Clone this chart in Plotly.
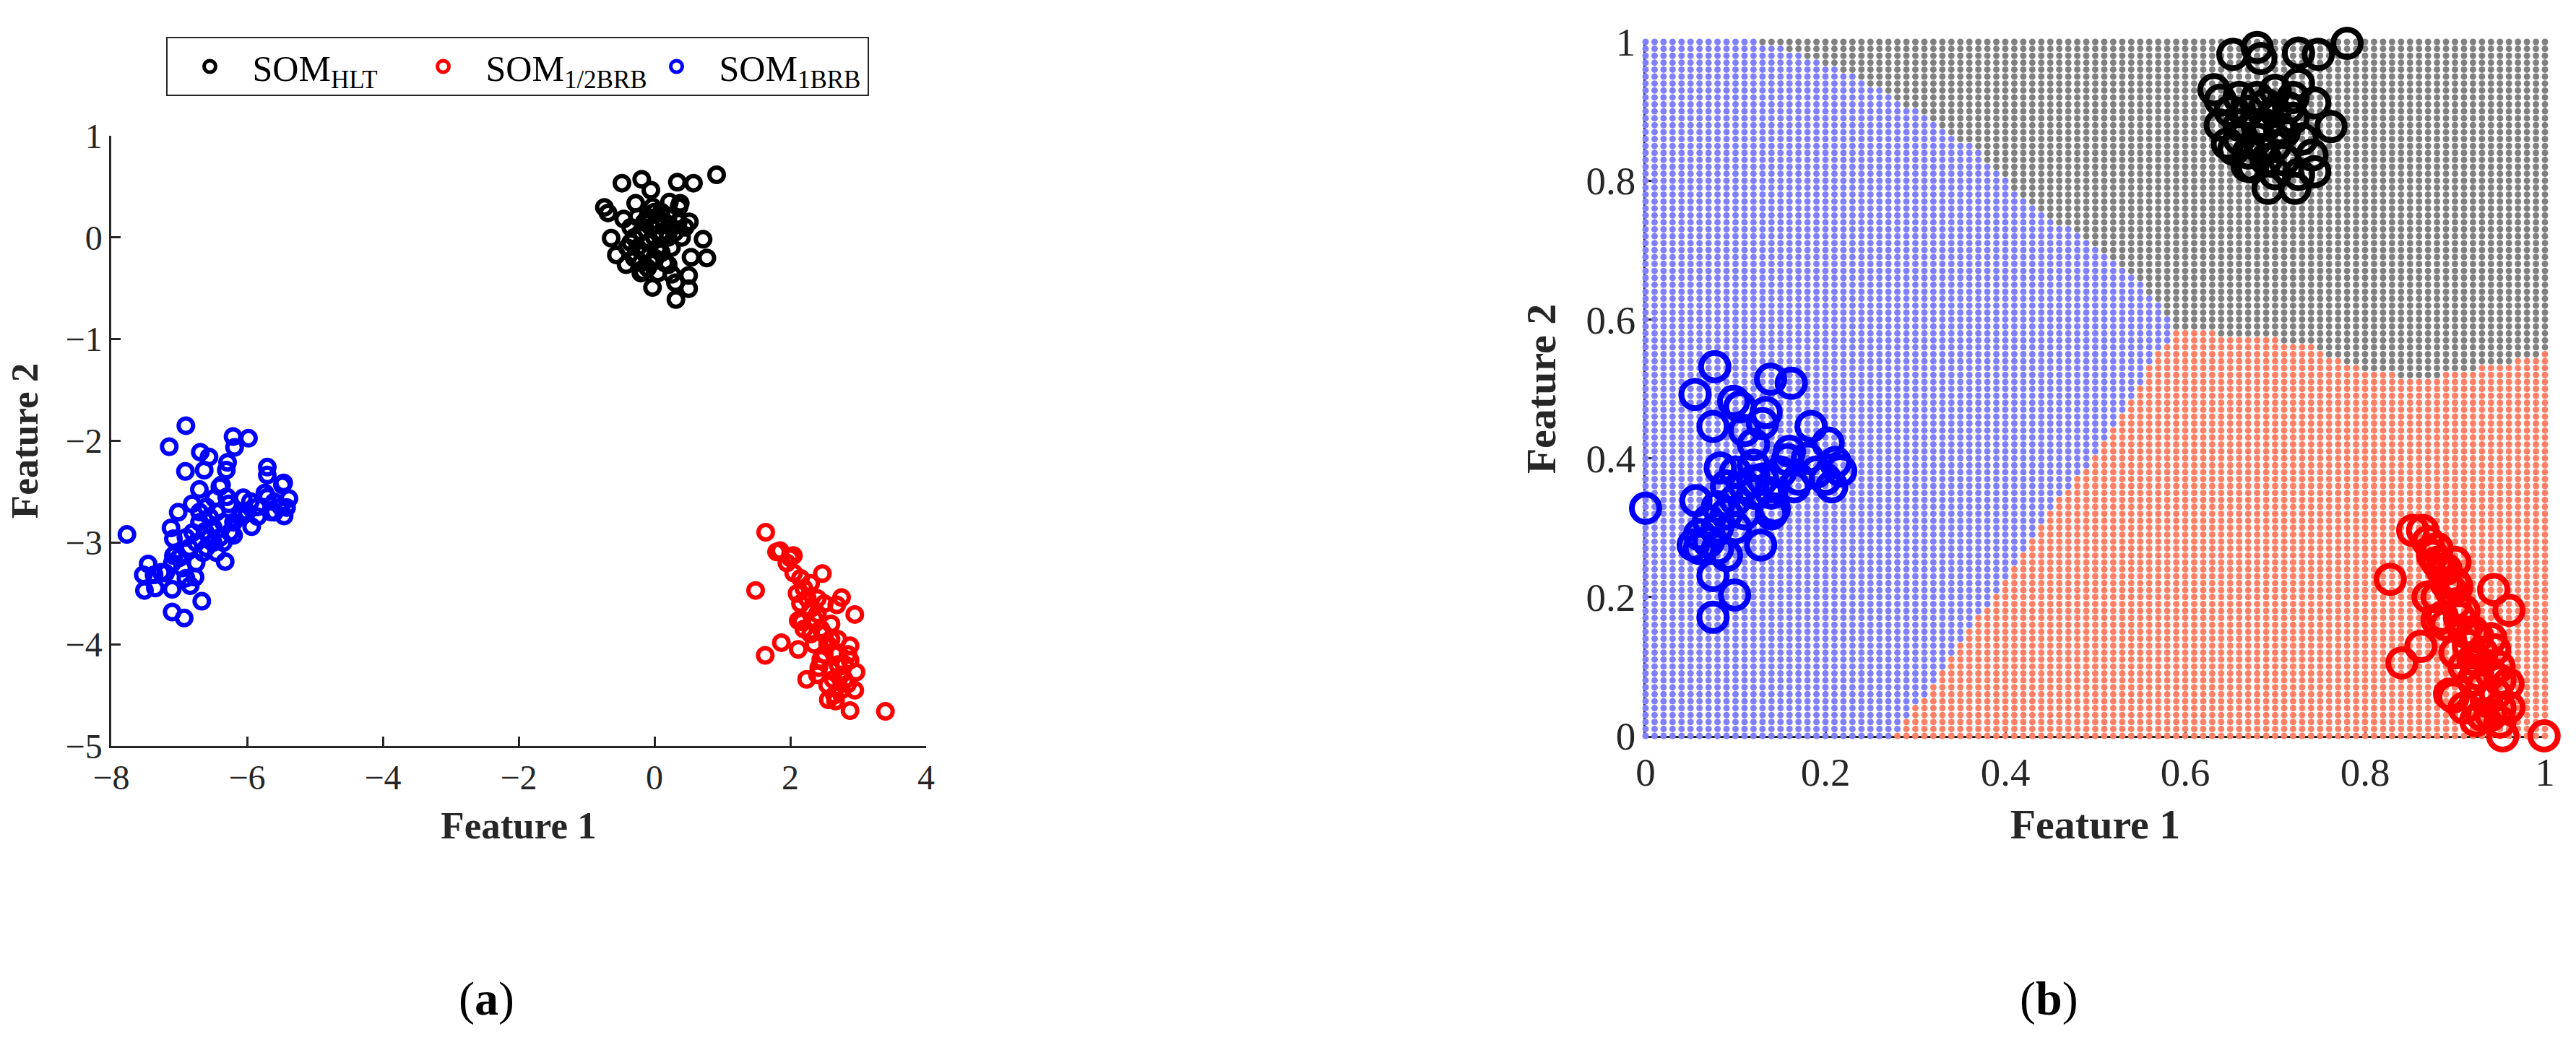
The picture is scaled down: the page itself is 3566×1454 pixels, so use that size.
import numpy as np
import plotly.graph_objects as go

# ---------------- (a) raw feature space ----------------
HLT_X = [-0.479, -0.188, -0.053, 0.337, 0.574, 0.915, -0.737, -0.684, -0.277, 0.220, 0.379, 0.514,
         -0.638, 0.716, 0.771, 0.503, 0.503, -0.029, 0.309, 0.316, 0.255, 0.202, 0.539, -0.561,
         -0.454, -0.418, -0.170, 0.362, -0.029,
         -0.35, -0.30, -0.25, -0.20, -0.15, -0.10, -0.05, 0.00, 0.05, 0.10, 0.15, 0.20, 0.25,
         -0.30, -0.20, -0.10, 0.00, 0.10, 0.30, 0.35, -0.40, -0.10, 0.00, 0.10, 0.20, -0.25,
         0.15, 0.05, -0.15, -0.05, 0.25, -0.35, 0.40, 0.45, -0.20, 0.05]
HLT_Y = [0.534, 0.572, 0.466, 0.544, 0.534, 0.617, 0.296, 0.241, 0.336, 0.348, 0.336, 0.154,
         -0.007, -0.018, -0.202, -0.374, -0.504, -0.492, -0.445, -0.610, -0.362, -0.267, -0.195, -0.172,
         0.182, -0.267, -0.337, 0.300, 0.300,
         0.10, 0.00, -0.10, 0.05, 0.15, -0.05, 0.10, 0.00, -0.10, 0.05, 0.15, 0.00, -0.10,
         -0.20, -0.25, -0.30, -0.20, -0.15, 0.05, 0.15, -0.10, 0.20, 0.25, 0.25, 0.20, 0.20,
         -0.25, 0.15, -0.15, -0.25, 0.10, -0.05, 0.00, 0.10, -0.35, -0.35]

HALF_X = [1.638, 1.489, 1.798, 1.851, 2.046, 2.472, 2.755, 2.950, 2.685, 2.117, 1.869, 1.631,
          2.117, 2.241, 2.880, 2.880, 2.968, 2.950, 2.560, 2.667, 2.880, 3.401, 2.844, 2.630,
          2.170, 2.420,
          1.95, 2.05, 2.15, 2.20, 2.10, 2.25, 2.30, 2.35, 2.40, 2.45, 2.50, 2.55, 2.60, 2.65,
          2.50, 2.70, 2.75, 2.80, 2.60, 2.55, 2.45, 2.35, 2.30, 2.40, 2.60, 2.70, 2.85, 2.75,
          2.00, 2.30, 2.15, 2.20, 2.50, 2.65, 2.40, 2.80]
HALF_Y = [-2.898, -3.471, -3.092, -3.080, -3.128, -3.305, -3.541, -3.707, -3.612, -3.766, -3.984, -4.109,
          -4.050, -4.345, -4.014, -4.156, -4.274, -4.452, -4.546, -4.558, -4.652, -4.660, -4.392, -4.345,
          -3.780, -4.230,
          -3.20, -3.30, -3.35, -3.45, -3.50, -3.55, -3.65, -3.75, -3.70, -3.85, -3.90, -4.00, -3.95, -4.10,
          -4.10, -4.20, -4.30, -4.35, -4.25, -4.40, -4.15, -4.00, -3.90, -3.55, -3.80, -3.95, -4.10, -4.45,
          -3.15, -3.40, -3.60, -3.85, -3.60, -4.50, -4.30, -4.20]

ONE_X = [-6.901, -7.146, -6.206, -5.979, -6.184, -6.688, -6.560, -6.287, -6.305, -6.907, -6.631, -5.702,
         -5.702, -5.461, -6.702, -6.376, -6.482, -6.809, -7.014, -6.269, -6.056, -5.950, -5.737, -5.479,
         -5.383, -5.418, -5.702, -5.596, -5.454, -5.844, -5.932, -6.092, -7.120, -7.769, -7.085, -6.198,
         -6.322, -7.457, -7.528, -7.369, -7.511, -7.351, -7.103, -6.837, -6.766, -6.667, -7.103, -6.926,
         -7.262, -7.085,
         -6.62, -6.70, -6.55, -6.50, -6.75, -6.60, -6.45, -6.70, -6.55, -6.80, -6.65, -6.50, -6.85,
         -6.40, -6.60, -7.00, -7.10, -6.95, -7.05, -6.90, -7.20, -6.90, -6.45, -6.35, -6.20, -6.10,
         -6.00, -5.85, -5.60, -5.50, -5.65, -6.25, -6.35, -6.75, -6.30, -6.40]
ONE_Y = [-1.851, -2.057, -1.957, -1.974, -2.064, -2.111, -2.158, -2.211, -2.288, -2.300, -2.288, -2.258,
         -2.336, -2.414, -2.478, -2.433, -2.565, -2.619, -2.702, -2.619, -2.560, -2.596, -2.513, -2.433,
         -2.567, -2.655, -2.553, -2.702, -2.738, -2.745, -2.844, -2.722, -2.856, -2.920, -2.962, -2.929,
         -3.187, -3.210, -3.317, -3.317, -3.471, -3.447, -3.459, -3.424, -3.340, -3.577, -3.683, -3.742,
         -3.293, -3.128,
         -2.89, -2.80, -2.95, -2.85, -3.00, -3.05, -3.10, -2.70, -2.75, -2.90, -3.10, -3.00, -3.05,
         -2.95, -2.65, -3.15, -3.20, -3.25, -3.10, -3.35, -3.30, -2.95, -2.70, -2.80, -2.80, -2.75,
         -2.70, -2.65, -2.60, -2.65, -2.70, -2.90, -3.00, -3.20, -2.55, -2.45]

# ---------------- (b) normalised feature space ----------------
B_HLT_X = [0.653, 0.680, 0.684, 0.726, 0.748, 0.780, 0.632, 0.639, 0.726, 0.744, 0.762, 0.639,
           0.647, 0.741, 0.744, 0.692, 0.722, 0.726, 0.669, 0.654,
           0.66, 0.67, 0.68, 0.69, 0.70, 0.71, 0.68, 0.70, 0.72, 0.67, 0.69, 0.71, 0.66, 0.70,
           0.73, 0.68, 0.69, 0.65, 0.72, 0.70, 0.675, 0.705, 0.685, 0.715, 0.66]
B_HLT_Y = [0.982, 0.992, 0.976, 0.984, 0.982, 0.998, 0.931, 0.916, 0.940, 0.912, 0.878, 0.880,
           0.853, 0.837, 0.813, 0.789, 0.789, 0.809, 0.821, 0.845,
           0.88, 0.90, 0.86, 0.88, 0.90, 0.87, 0.92, 0.85, 0.89, 0.84, 0.83, 0.83, 0.86, 0.93,
           0.86, 0.88, 0.91, 0.90, 0.92, 0.81, 0.82, 0.875, 0.845, 0.905, 0.92]

B_HALF_X = [0.828, 0.841, 0.862, 0.894, 0.999, 0.953, 0.923, 0.960, 0.943, 0.959, 0.960, 0.853,
            0.864, 0.886, 0.944, 0.949, 0.898, 0.910, 0.880, 0.925, 0.902,
            0.87, 0.875, 0.88, 0.885, 0.89, 0.895, 0.90, 0.905, 0.91, 0.915, 0.92, 0.925, 0.93,
            0.935, 0.94, 0.88, 0.89, 0.90, 0.91, 0.92, 0.93, 0.94, 0.945, 0.95, 0.90, 0.91, 0.92,
            0.93, 0.95, 0.94, 0.89, 0.90, 0.87, 0.88, 0.95]
B_HALF_Y = [0.2255, 0.105, 0.129, 0.060, 0.000, 0.000, 0.022, 0.181, 0.211, 0.075, 0.041, 0.296,
            0.296, 0.171, 0.124, 0.100, 0.056, 0.040, 0.167, 0.143, 0.215,
            0.28, 0.26, 0.25, 0.24, 0.22, 0.21, 0.19, 0.17, 0.15, 0.13, 0.11, 0.09, 0.07,
            0.05, 0.03, 0.27, 0.24, 0.22, 0.18, 0.15, 0.12, 0.09, 0.06, 0.04, 0.12, 0.10, 0.08,
            0.03, 0.02, 0.14, 0.16, 0.25, 0.20, 0.20, 0.08]

B_ONE_X = [0.000, 0.077, 0.055, 0.098, 0.105, 0.139, 0.162, 0.075, 0.134, 0.184, 0.203, 0.075,
           0.099, 0.075, 0.128, 0.056, 0.053, 0.083, 0.211, 0.217, 0.207, 0.158, 0.165, 0.143,
           0.120,
           0.08, 0.09, 0.10, 0.11, 0.12, 0.10, 0.07, 0.08, 0.06, 0.11, 0.13, 0.12, 0.14, 0.09,
           0.10, 0.15, 0.17, 0.18, 0.07, 0.09, 0.12, 0.11, 0.13, 0.16, 0.20, 0.19, 0.06, 0.08, 0.14]
B_ONE_Y = [0.328, 0.532, 0.492, 0.482, 0.474, 0.514, 0.508, 0.446, 0.466, 0.446, 0.422, 0.231,
           0.203, 0.171, 0.275, 0.339, 0.275, 0.386, 0.394, 0.382, 0.359, 0.398, 0.359, 0.327,
           0.367,
           0.30, 0.32, 0.34, 0.36, 0.35, 0.30, 0.28, 0.27, 0.29, 0.32, 0.37, 0.39, 0.35, 0.36,
           0.38, 0.38, 0.37, 0.40, 0.31, 0.26, 0.42, 0.44, 0.45, 0.41, 0.37, 0.38, 0.27, 0.33, 0.32]

# decision-region boundaries
GRAY_BLUE_X = [0.128, 0.195, 0.278, 0.368, 0.429, 0.496, 0.556, 0.590]
GRAY_BLUE_Y = [1.000, 0.972, 0.920, 0.845, 0.765, 0.709, 0.645, 0.585]
GRAY_RED_X = [0.590, 0.609, 0.684, 0.737, 0.797, 0.857, 0.910, 0.962, 1.000]
GRAY_RED_Y = [0.585, 0.583, 0.574, 0.562, 0.530, 0.514, 0.526, 0.538, 0.554]
BLUE_RED_Y = [0.000, 0.016, 0.080, 0.167, 0.223, 0.279, 0.343, 0.398, 0.470, 0.542, 0.585]
BLUE_RED_X = [0.274, 0.286, 0.323, 0.368, 0.398, 0.429, 0.459, 0.496, 0.534, 0.564, 0.590]
GRID_STEP = 0.01

UX = GRAY_BLUE_X + GRAY_RED_X[1:]
UY = GRAY_BLUE_Y + GRAY_RED_Y[1:]
grid = np.round(np.arange(0, 1 + GRID_STEP / 2, GRID_STEP), 4)
reg = {"gray": ([], []), "blue": ([], []), "red": ([], [])}
for gx in grid:
    for gy in grid:
        if gx >= UX[0] and gy >= np.interp(gx, UX, UY):
            k = "gray"
        elif gy > BLUE_RED_Y[-1] or gx < np.interp(gy, BLUE_RED_Y, BLUE_RED_X):
            k = "blue"
        else:
            k = "red"
        reg[k][0].append(gx)
        reg[k][1].append(gy)

FONT = "Liberation Serif"
AX = "#262626"

fig = go.Figure()

# panel (a)
for name, xs, ys, col in [("SOM<sub>HLT</sub>", HLT_X, HLT_Y, "#000000"),
                          ("SOM<sub>1/2BRB</sub>", HALF_X, HALF_Y, "#FF0000"),
                          ("SOM<sub>1BRB</sub>", ONE_X, ONE_Y, "#0000FF")]:
    fig.add_trace(go.Scatter(x=xs, y=ys, mode="markers", name=name, cliponaxis=False,
                             marker=dict(symbol="circle-open", size=20, color=col,
                                         line=dict(width=6, color=col)),
                             xaxis="x", yaxis="y"))

# panel (b) regions
for k, col in [("gray", "#808080"), ("blue", "#8080FF"), ("red", "#FF8066")]:
    fig.add_trace(go.Scatter(x=reg[k][0], y=reg[k][1], mode="markers", showlegend=False,
                             cliponaxis=False, hoverinfo="skip",
                             marker=dict(symbol="circle", size=9, color=col, line=dict(width=0)),
                             xaxis="x2", yaxis="y2"))

for xs, ys, col in [(B_HLT_X, B_HLT_Y, "#000000"), (B_HALF_X, B_HALF_Y, "#FF0000"),
                    (B_ONE_X, B_ONE_Y, "#0000FF")]:
    fig.add_trace(go.Scatter(x=xs, y=ys, mode="markers", showlegend=False, cliponaxis=False,
                             marker=dict(symbol="circle-open", size=38, color=col,
                                         line=dict(width=8, color=col)),
                             xaxis="x2", yaxis="y2"))

W, H = 3566, 1454


def axstyle(size):
    return dict(showline=True, linecolor=AX, linewidth=2.5, ticks="inside", ticklen=13,
                tickwidth=2.5, tickcolor=AX, showgrid=False, zeroline=False, mirror=False,
                automargin=False,
                tickfont=dict(family=FONT, size=size, color=AX), layer="below traces")


fig.update_layout(
    width=W, height=H, margin=dict(l=0, r=0, t=0, b=0, autoexpand=False),
    paper_bgcolor="white", plot_bgcolor="rgba(0,0,0,0)",
    font=dict(family=FONT, color=AX),
    xaxis=dict(domain=[154 / W, 1282 / W], anchor="y", range=[-8, 4], tickvals=[-8, -6, -4, -2, 0, 2, 4],
               title=dict(text="<b>Feature 1</b>", font=dict(family=FONT, size=53, color=AX), standoff=22),
               **axstyle(48)),
    yaxis=dict(domain=[1 - 1033 / H, 1 - 188 / H], anchor="x", range=[-5, 1], tickvals=[-5, -4, -3, -2, -1, 0, 1],
               title=dict(text="<b>Feature 2</b>", font=dict(family=FONT, size=53, color=AX), standoff=22),
               **axstyle(48)),
    xaxis2=dict(domain=[2278 / W, 3523 / W], anchor="y2", range=[0, 1],
                tickvals=[0, 0.2, 0.4, 0.6, 0.8, 1], ticktext=["0", "0.2", "0.4", "0.6", "0.8", "1"],
                title=dict(text="<b>Feature 1</b>", font=dict(family=FONT, size=58, color=AX), standoff=22),
                **axstyle(55)),
    yaxis2=dict(domain=[1 - 1019 / H, 1 - 58 / H], anchor="x2", range=[0, 1],
                tickvals=[0, 0.2, 0.4, 0.6, 0.8, 1], ticktext=["0", "0.2", "0.4", "0.6", "0.8", "1"],
                title=dict(text="<b>Feature 2</b>", font=dict(family=FONT, size=58, color=AX), standoff=24),
                **axstyle(55)),
    legend=dict(orientation="h", x=716 / W, y=1 - 51 / H, xanchor="center", yanchor="top",
                bordercolor=AX, borderwidth=2, bgcolor="white", itemwidth=108,
                entrywidth=200, entrywidthmode="pixels",
                font=dict(family=FONT, size=50, color="#000000")),
    annotations=[
        dict(text="(<b>a</b>)", x=673 / W, y=1 - 1383 / H, xref="paper", yref="paper",
             xanchor="center", yanchor="middle",
             showarrow=False, font=dict(family=FONT, size=66, color="#000000")),
        dict(text="(<b>b</b>)", x=2836 / W, y=1 - 1383 / H, xref="paper", yref="paper",
             xanchor="center", yanchor="middle",
             showarrow=False, font=dict(family=FONT, size=66, color="#000000")),
    ],
)

fig.write_html("out.html", config={"displayModeBar": False},
               post_script="document.body.style.margin='0px';")
